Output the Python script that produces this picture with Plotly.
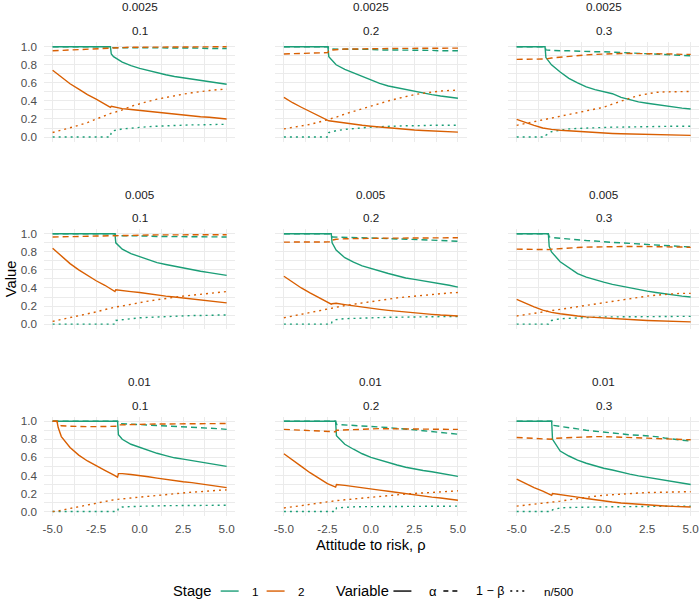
import plotly.graph_objects as go

# ---------------- data ----------------
ROW_LABELS = ["0.0025", "0.005", "0.01"]
COL_LABELS = ["0.1", "0.2", "0.3"]
X_TICKS = [-5, -2.5, 0, 2.5, 5]
X_TICK_LABELS = ["-5.0", "-2.5", "0.0", "2.5", "5.0"]
Y_TICKS = [0, 0.2, 0.4, 0.6, 0.8, 1.0]
Y_TICK_LABELS = ["0.0", "0.2", "0.4", "0.6", "0.8", "1.0"]
STAGES = ["1", "2"]
VARIABLES = ["α", "1 − β", "n/500"]

# panel row 1 (0.0025), col 1 (0.1)
X_11 = [-5, -4.5, -4, -3.5, -3, -2.5, -2, -1.68, -1.63, -1.5, -1, -0.5, 0, 0.5, 1, 1.5, 2, 2.5, 3, 3.5, 4, 4.5, 5]
A1_11 = [1, 1, 1, 1, 1, 1, 1, 1, 0.92, 0.89, 0.83, 0.79, 0.76, 0.735, 0.715, 0.69, 0.67, 0.655, 0.64, 0.625, 0.615, 0.60, 0.585]
B1_11 = [1, 1, 1, 1, 1, 1, 1, 1, 0.99, 0.99, 0.99, 0.99, 0.99, 0.99, 0.99, 0.99, 0.985, 0.985, 0.985, 0.985, 0.98, 0.98, 0.98]
N1_11 = [0, 0, 0, 0, 0, 0, 0, 0, 0.06, 0.07, 0.09, 0.10, 0.11, 0.115, 0.12, 0.125, 0.13, 0.13, 0.135, 0.135, 0.14, 0.14, 0.14]
A2_11 = [0.74, 0.66, 0.59, 0.53, 0.47, 0.42, 0.37, 0.33, 0.34, 0.335, 0.315, 0.305, 0.295, 0.28, 0.27, 0.26, 0.25, 0.245, 0.235, 0.225, 0.22, 0.21, 0.20]
B2_11 = [0.955, 0.96, 0.965, 0.97, 0.975, 0.98, 0.98, 0.985, 0.99, 0.99, 0.99, 0.995, 0.995, 0.995, 0.995, 1, 1, 1, 1, 1, 1, 1, 1]
N2_11 = [0.05, 0.075, 0.10, 0.13, 0.16, 0.20, 0.24, 0.26, 0.265, 0.27, 0.30, 0.34, 0.37, 0.395, 0.42, 0.44, 0.46, 0.475, 0.49, 0.505, 0.515, 0.525, 0.53]

# row 1, col 2
X_12 = [-5, -4.5, -4, -3.5, -3, -2.47, -2.42, -2, -1.5, -1, -0.5, 0, 0.5, 1, 1.5, 2, 2.5, 3, 3.5, 4, 4.5, 5]
A1_12 = [1, 1, 1, 1, 1, 1, 0.89, 0.80, 0.75, 0.71, 0.675, 0.635, 0.595, 0.565, 0.545, 0.525, 0.505, 0.485, 0.47, 0.455, 0.44, 0.43]
B1_12 = [1, 1, 1, 1, 1, 1, 0.975, 0.975, 0.975, 0.97, 0.97, 0.97, 0.965, 0.965, 0.965, 0.96, 0.96, 0.96, 0.96, 0.955, 0.955, 0.955]
N1_12 = [0, 0, 0, 0, 0, 0, 0.05, 0.07, 0.085, 0.095, 0.10, 0.11, 0.115, 0.12, 0.12, 0.125, 0.125, 0.13, 0.13, 0.13, 0.13, 0.13]
A2_12 = [0.44, 0.38, 0.33, 0.28, 0.23, 0.185, 0.18, 0.17, 0.155, 0.14, 0.13, 0.12, 0.11, 0.10, 0.092, 0.085, 0.078, 0.072, 0.067, 0.063, 0.059, 0.055]
B2_12 = [0.92, 0.922, 0.925, 0.928, 0.931, 0.935, 0.96, 0.97, 0.975, 0.975, 0.978, 0.98, 0.98, 0.98, 0.982, 0.982, 0.983, 0.983, 0.984, 0.984, 0.985, 0.985]
N2_12 = [0.09, 0.105, 0.12, 0.14, 0.165, 0.19, 0.195, 0.22, 0.255, 0.285, 0.315, 0.345, 0.375, 0.40, 0.425, 0.45, 0.47, 0.485, 0.50, 0.51, 0.515, 0.52]

# row 1, col 3
X_13 = [-5, -4.5, -4, -3.5, -3.37, -3.32, -3, -2.5, -2, -1.5, -1, -0.5, 0, 0.5, 1, 1.5, 2, 2.5, 3, 3.5, 4, 4.5, 5]
A1_13 = [1, 1, 1, 1, 1, 0.88, 0.80, 0.72, 0.65, 0.60, 0.555, 0.525, 0.50, 0.48, 0.44, 0.415, 0.39, 0.375, 0.36, 0.345, 0.33, 0.32, 0.31]
B1_13 = [1, 1, 1, 1, 1, 0.965, 0.96, 0.955, 0.955, 0.95, 0.95, 0.945, 0.945, 0.94, 0.935, 0.93, 0.93, 0.925, 0.92, 0.915, 0.91, 0.905, 0.90]
N1_13 = [0, 0, 0, 0, 0, 0.02, 0.06, 0.075, 0.09, 0.095, 0.10, 0.10, 0.105, 0.11, 0.11, 0.113, 0.115, 0.117, 0.118, 0.12, 0.12, 0.12, 0.12]
A2_13 = [0.195, 0.16, 0.13, 0.10, 0.095, 0.093, 0.085, 0.075, 0.068, 0.06, 0.054, 0.048, 0.043, 0.04, 0.036, 0.033, 0.03, 0.028, 0.026, 0.024, 0.022, 0.02, 0.018]
B2_13 = [0.86, 0.86, 0.86, 0.86, 0.86, 0.865, 0.875, 0.885, 0.895, 0.90, 0.91, 0.915, 0.92, 0.925, 0.925, 0.925, 0.925, 0.925, 0.92, 0.92, 0.92, 0.915, 0.915]
N2_13 = [0.13, 0.15, 0.17, 0.19, 0.195, 0.197, 0.21, 0.23, 0.25, 0.27, 0.29, 0.31, 0.33, 0.365, 0.40, 0.43, 0.46, 0.48, 0.495, 0.50, 0.50, 0.505, 0.505]

# row 2 (0.005), col 1
X_21 = [-5, -4.5, -4, -3.5, -3, -2.5, -2, -1.5, -1.42, -1.37, -1, -0.5, 0, 0.5, 1, 1.5, 2, 2.5, 3, 3.5, 4, 4.5, 5]
A1_21 = [1, 1, 1, 1, 1, 1, 1, 1, 1, 0.90, 0.83, 0.78, 0.745, 0.71, 0.68, 0.66, 0.64, 0.62, 0.60, 0.585, 0.57, 0.555, 0.54]
B1_21 = [1, 1, 1, 1, 1, 1, 1, 1, 1, 0.98, 0.98, 0.975, 0.975, 0.975, 0.97, 0.97, 0.97, 0.97, 0.965, 0.965, 0.965, 0.965, 0.965]
N1_21 = [0, 0, 0, 0, 0, 0, 0, 0, 0, 0.04, 0.05, 0.06, 0.07, 0.075, 0.08, 0.085, 0.09, 0.09, 0.095, 0.095, 0.10, 0.10, 0.10]
A2_21 = [0.84, 0.75, 0.67, 0.60, 0.54, 0.48, 0.43, 0.37, 0.36, 0.38, 0.375, 0.36, 0.35, 0.335, 0.32, 0.31, 0.30, 0.29, 0.28, 0.265, 0.255, 0.245, 0.235]
B2_21 = [0.965, 0.965, 0.968, 0.97, 0.972, 0.975, 0.977, 0.978, 0.978, 0.985, 0.985, 0.986, 0.987, 0.987, 0.988, 0.988, 0.989, 0.989, 0.99, 0.99, 0.99, 0.99, 0.99]
N2_21 = [0.03, 0.05, 0.07, 0.09, 0.11, 0.135, 0.16, 0.185, 0.19, 0.19, 0.20, 0.22, 0.24, 0.255, 0.27, 0.285, 0.30, 0.31, 0.32, 0.33, 0.34, 0.35, 0.36]

# row 2, col 2
X_22 = [-5, -4.5, -4, -3.5, -3, -2.5, -2.28, -2.23, -2, -1.5, -1, -0.5, 0, 0.5, 1, 1.5, 2, 2.5, 3, 3.5, 4, 4.5, 5]
A1_22 = [1, 1, 1, 1, 1, 1, 1, 0.90, 0.82, 0.735, 0.685, 0.645, 0.615, 0.585, 0.56, 0.535, 0.51, 0.495, 0.48, 0.465, 0.45, 0.43, 0.41]
B1_22 = [1, 1, 1, 1, 1, 1, 1, 0.965, 0.963, 0.96, 0.958, 0.955, 0.953, 0.95, 0.948, 0.945, 0.94, 0.937, 0.933, 0.93, 0.926, 0.922, 0.918]
N1_22 = [0, 0, 0, 0, 0, 0, 0, 0.03, 0.05, 0.06, 0.065, 0.068, 0.07, 0.072, 0.075, 0.077, 0.078, 0.08, 0.08, 0.082, 0.083, 0.085, 0.085]
A2_22 = [0.53, 0.46, 0.40, 0.345, 0.29, 0.24, 0.22, 0.225, 0.23, 0.215, 0.20, 0.19, 0.175, 0.163, 0.152, 0.142, 0.132, 0.123, 0.115, 0.108, 0.10, 0.095, 0.09]
B2_22 = [0.908, 0.908, 0.909, 0.91, 0.91, 0.91, 0.91, 0.93, 0.94, 0.945, 0.948, 0.95, 0.95, 0.951, 0.952, 0.952, 0.953, 0.954, 0.954, 0.955, 0.955, 0.956, 0.956]
N2_22 = [0.07, 0.09, 0.11, 0.13, 0.15, 0.165, 0.175, 0.177, 0.19, 0.205, 0.22, 0.235, 0.25, 0.265, 0.28, 0.29, 0.30, 0.31, 0.32, 0.33, 0.34, 0.345, 0.35]

# row 2, col 3
X_23 = [-5, -4.5, -4, -3.5, -3.18, -3.13, -3, -2.5, -2, -1.5, -1, -0.5, 0, 0.5, 1, 1.5, 2, 2.5, 3, 3.5, 4, 4.5, 5]
A1_23 = [1, 1, 1, 1, 1, 0.86, 0.80, 0.69, 0.62, 0.56, 0.52, 0.49, 0.465, 0.44, 0.42, 0.40, 0.38, 0.365, 0.35, 0.335, 0.32, 0.31, 0.30]
B1_23 = [1, 1, 1, 1, 1, 0.965, 0.96, 0.95, 0.94, 0.935, 0.925, 0.92, 0.91, 0.905, 0.90, 0.895, 0.89, 0.885, 0.88, 0.875, 0.865, 0.86, 0.853]
N1_23 = [0, 0, 0, 0, 0, 0.02, 0.04, 0.06, 0.065, 0.07, 0.075, 0.078, 0.08, 0.08, 0.082, 0.082, 0.083, 0.083, 0.084, 0.084, 0.085, 0.085, 0.085]
A2_23 = [0.275, 0.23, 0.19, 0.155, 0.135, 0.133, 0.13, 0.115, 0.10, 0.09, 0.08, 0.073, 0.067, 0.06, 0.055, 0.05, 0.045, 0.04, 0.036, 0.032, 0.03, 0.027, 0.025]
B2_23 = [0.83, 0.828, 0.825, 0.822, 0.818, 0.825, 0.83, 0.838, 0.843, 0.848, 0.852, 0.855, 0.858, 0.86, 0.86, 0.86, 0.86, 0.86, 0.858, 0.857, 0.855, 0.853, 0.85]
N2_23 = [0.09, 0.105, 0.12, 0.135, 0.145, 0.147, 0.15, 0.165, 0.18, 0.195, 0.21, 0.225, 0.24, 0.255, 0.27, 0.285, 0.30, 0.31, 0.32, 0.33, 0.335, 0.34, 0.34]

# row 3 (0.01), col 1
X_31 = [-5, -4.75, -4.68, -4.5, -4, -3.5, -3, -2.5, -2, -1.5, -1.27, -1.22, -1, -0.5, 0, 0.5, 1, 1.5, 2, 2.5, 3, 3.5, 4, 4.5, 5]
A1_31 = [1, 1, 1, 1, 1, 1, 1, 1, 1, 1, 1, 0.85, 0.80, 0.745, 0.71, 0.675, 0.645, 0.62, 0.595, 0.58, 0.565, 0.55, 0.53, 0.515, 0.50]
B1_31 = [1, 1, 1, 1, 1, 1, 1, 1, 1, 1, 1, 0.975, 0.973, 0.97, 0.965, 0.96, 0.955, 0.95, 0.945, 0.94, 0.935, 0.93, 0.925, 0.918, 0.91]
N1_31 = [0, 0, 0, 0, 0, 0, 0, 0, 0, 0, 0, 0.04, 0.05, 0.055, 0.06, 0.062, 0.063, 0.065, 0.066, 0.067, 0.068, 0.069, 0.07, 0.07, 0.07]
A2_31 = [1, 1, 0.93, 0.83, 0.71, 0.625, 0.56, 0.505, 0.455, 0.405, 0.38, 0.42, 0.42, 0.41, 0.40, 0.385, 0.37, 0.355, 0.344, 0.33, 0.32, 0.305, 0.295, 0.28, 0.265]
B2_31 = [1, 1, 0.97, 0.95, 0.945, 0.94, 0.94, 0.94, 0.94, 0.945, 0.945, 0.96, 0.962, 0.965, 0.967, 0.968, 0.969, 0.97, 0.971, 0.972, 0.973, 0.973, 0.974, 0.975, 0.975]
N2_31 = [0, 0, 0.005, 0.015, 0.035, 0.055, 0.075, 0.09, 0.11, 0.13, 0.135, 0.137, 0.14, 0.15, 0.16, 0.17, 0.18, 0.19, 0.20, 0.21, 0.215, 0.22, 0.23, 0.235, 0.24]

# row 3, col 2
X_32 = [-5, -4.5, -4, -3.5, -3, -2.5, -2.03, -1.98, -1.5, -1, -0.5, 0, 0.5, 1, 1.5, 2, 2.5, 3, 3.5, 4, 4.5, 5]
A1_32 = [1, 1, 1, 1, 1, 1, 1, 0.84, 0.745, 0.69, 0.64, 0.60, 0.57, 0.545, 0.515, 0.49, 0.47, 0.455, 0.44, 0.425, 0.41, 0.39]
B1_32 = [1, 1, 1, 1, 1, 1, 1, 0.965, 0.96, 0.955, 0.945, 0.94, 0.935, 0.93, 0.92, 0.915, 0.905, 0.895, 0.885, 0.875, 0.865, 0.857]
N1_32 = [0, 0, 0, 0, 0, 0, 0, 0.04, 0.05, 0.052, 0.054, 0.055, 0.056, 0.057, 0.057, 0.058, 0.058, 0.059, 0.059, 0.06, 0.06, 0.06]
A2_32 = [0.64, 0.565, 0.50, 0.43, 0.37, 0.31, 0.27, 0.30, 0.29, 0.275, 0.262, 0.25, 0.237, 0.224, 0.21, 0.198, 0.185, 0.172, 0.16, 0.15, 0.137, 0.125]
B2_32 = [0.91, 0.905, 0.90, 0.895, 0.89, 0.887, 0.883, 0.90, 0.905, 0.91, 0.915, 0.92, 0.918, 0.917, 0.915, 0.915, 0.913, 0.912, 0.911, 0.91, 0.91, 0.91]
N2_32 = [0.04, 0.05, 0.065, 0.08, 0.095, 0.11, 0.12, 0.121, 0.13, 0.14, 0.15, 0.16, 0.17, 0.178, 0.186, 0.194, 0.20, 0.207, 0.214, 0.22, 0.225, 0.23]

# row 3, col 3
X_33 = [-5, -4.5, -4, -3.5, -2.99, -2.94, -2.5, -2, -1.5, -1, -0.5, 0, 0.5, 1, 1.5, 2, 2.5, 3, 3.5, 4, 4.5, 5]
A1_33 = [1, 1, 1, 1, 1, 0.80, 0.67, 0.615, 0.57, 0.535, 0.505, 0.48, 0.46, 0.435, 0.415, 0.395, 0.38, 0.36, 0.345, 0.33, 0.315, 0.30]
B1_33 = [1, 1, 1, 1, 1, 0.955, 0.945, 0.93, 0.915, 0.90, 0.89, 0.875, 0.865, 0.86, 0.85, 0.845, 0.84, 0.83, 0.815, 0.80, 0.79, 0.78]
N1_33 = [0, 0, 0, 0, 0, 0.02, 0.04, 0.045, 0.048, 0.05, 0.051, 0.052, 0.053, 0.054, 0.055, 0.056, 0.057, 0.058, 0.059, 0.06, 0.06, 0.06]
A2_33 = [0.36, 0.31, 0.265, 0.225, 0.18, 0.20, 0.19, 0.175, 0.16, 0.145, 0.13, 0.115, 0.105, 0.095, 0.087, 0.08, 0.073, 0.067, 0.062, 0.057, 0.053, 0.05]
B2_33 = [0.82, 0.815, 0.81, 0.805, 0.80, 0.81, 0.815, 0.82, 0.825, 0.828, 0.83, 0.83, 0.828, 0.825, 0.822, 0.818, 0.813, 0.808, 0.803, 0.80, 0.797, 0.795]
N2_33 = [0.06, 0.07, 0.08, 0.09, 0.10, 0.101, 0.115, 0.13, 0.145, 0.16, 0.17, 0.18, 0.188, 0.195, 0.20, 0.205, 0.21, 0.213, 0.216, 0.218, 0.22, 0.22]

PANELS = [
    [(X_11, A1_11, B1_11, N1_11, A2_11, B2_11, N2_11),
     (X_12, A1_12, B1_12, N1_12, A2_12, B2_12, N2_12),
     (X_13, A1_13, B1_13, N1_13, A2_13, B2_13, N2_13)],
    [(X_21, A1_21, B1_21, N1_21, A2_21, B2_21, N2_21),
     (X_22, A1_22, B1_22, N1_22, A2_22, B2_22, N2_22),
     (X_23, A1_23, B1_23, N1_23, A2_23, B2_23, N2_23)],
    [(X_31, A1_31, B1_31, N1_31, A2_31, B2_31, N2_31),
     (X_32, A1_32, B1_32, N1_32, A2_32, B2_32, N2_32),
     (X_33, A1_33, B1_33, N1_33, A2_33, B2_33, N2_33)],
]

# ---------------- styling ----------------
W, H = 700, 602
FONT = "Liberation Sans, Arial, Helvetica, sans-serif"
GREEN, ORANGE = "#1B9E77", "#D95F02"
STAGE_COLORS = [GREEN, ORANGE]
DASHES = ["solid", "6px,4px", "2px,4px"]
LW = 1.4
GRID = "#EBEBEB"
TICK_COL = "#4D4D4D"

COL_PX = [(43.0, 234.7), (274.6, 466.3), (507.7, 699.4)]
ROW_PX = [(40.5, 140.5), (228.8, 328.8), (417.5, 517.5)]


def px(x):
    return x / W


def py(y):
    return 1 - y / H


fig = go.Figure()
layout = {}
annotations = []
shapes = []

for r in range(3):
    for c in range(3):
        n = r * 3 + c + 1
        xs = "x" if n == 1 else f"x{n}"
        ys = "y" if n == 1 else f"y{n}"
        xname = "xaxis" if n == 1 else f"xaxis{n}"
        yname = "yaxis" if n == 1 else f"yaxis{n}"
        x0, x1 = COL_PX[c]
        y0, y1 = ROW_PX[r]
        layout[xname] = dict(
            domain=[px(x0), px(x1)], anchor=ys, range=[-5.5, 5.5],
            tickmode="array", tickvals=X_TICKS, ticktext=X_TICK_LABELS,
            showticklabels=(r == 2), ticks="", showline=False, zeroline=False,
            ticklabelstandoff=4,
            showgrid=True, gridcolor=GRID, gridwidth=1.1,
            minor=dict(tickvals=[-3.75, -1.25, 1.25, 3.75], showgrid=True,
                       gridcolor=GRID, gridwidth=0.55, ticks=""),
            tickfont=dict(family=FONT, size=11.7, color=TICK_COL),
        )
        layout[yname] = dict(
            domain=[py(y1), py(y0)], anchor=xs, range=[-0.05, 1.05],
            tickmode="array", tickvals=Y_TICKS, ticktext=Y_TICK_LABELS,
            showticklabels=(c == 0), ticks="", showline=False, zeroline=False,
            ticklabelstandoff=6,
            showgrid=True, gridcolor=GRID, gridwidth=1.1,
            minor=dict(tickvals=[0.1, 0.3, 0.5, 0.7, 0.9], showgrid=True,
                       gridcolor=GRID, gridwidth=0.55, ticks=""),
            tickfont=dict(family=FONT, size=11.7, color=TICK_COL),
        )
        data = PANELS[r][c]
        xv = data[0]
        series = data[1:]
        for s in range(2):
            for v in range(3):
                yv = series[s * 3 + v]
                fig.add_trace(go.Scatter(
                    x=xv, y=yv, mode="lines", xaxis=xs, yaxis=ys,
                    line=dict(color=STAGE_COLORS[s], width=LW, dash=DASHES[v]),
                    showlegend=False, hoverinfo="skip",
                    name=f"Stage {STAGES[s]} {VARIABLES[v]}",
                ))
        cx = (x0 + x1) / 2
        annotations.append(dict(text=ROW_LABELS[r], x=px(cx), y=py(y0 - 35.5),
                                xref="paper", yref="paper", showarrow=False,
                                xanchor="center", yanchor="middle",
                                font=dict(family=FONT, size=11.7, color="#1A1A1A")))
        annotations.append(dict(text=COL_LABELS[c], x=px(cx), y=py(y0 - 11.7),
                                xref="paper", yref="paper", showarrow=False,
                                xanchor="center", yanchor="middle",
                                font=dict(family=FONT, size=11.7, color="#1A1A1A")))

# axis titles
annotations.append(dict(text="Attitude to risk, ρ", x=px(371), y=py(547), xref="paper", yref="paper",
                        showarrow=False, xanchor="center", yanchor="middle",
                        font=dict(family=FONT, size=14.7, color="black")))
annotations.append(dict(text="Value", x=px(10), y=py(279), xref="paper", yref="paper",
                        showarrow=False, xanchor="center", yanchor="middle", textangle=-90,
                        font=dict(family=FONT, size=14.7, color="black")))

# legend (manual)
LEG_Y = 593
def leg_text(t, x, size, anchor="center"):
    annotations.append(dict(text=t, x=px(x), y=py(LEG_Y), xref="paper", yref="paper",
                            showarrow=False, xanchor=anchor, yanchor="middle",
                            font=dict(family=FONT, size=size, color="black")))

def leg_line(xa, xb, color, dash):
    shapes.append(dict(type="line", xref="paper", yref="paper", x0=px(xa), x1=px(xb),
                       y0=py(LEG_Y), y1=py(LEG_Y), line=dict(color=color, width=LW, dash=dash)))

leg_text("Stage", 170, 14.7, "left")
leg_line(220, 238, GREEN, "solid")
leg_text(STAGES[0], 249, 11.7, "left")
leg_line(266, 284, ORANGE, "solid")
leg_text(STAGES[1], 295, 11.7, "left")
leg_text("Variable", 333, 14.7, "left")
leg_line(393, 411, "black", "solid")
leg_text(VARIABLES[0], 427, 13, "left")
leg_line(443, 461, "black", "5px,4px")
leg_text(VARIABLES[1], 474, 12.5, "left")
leg_line(510, 528, "black", "2px,4px")
leg_text(VARIABLES[2], 542, 11.7, "left")

fig.update_layout(
    width=W, height=H, margin=dict(l=0, r=0, t=0, b=0),
    paper_bgcolor="white", plot_bgcolor="white",
    showlegend=False, annotations=annotations, shapes=shapes,
    font=dict(family=FONT),
    **layout,
)

fig.write_html("out.html")
